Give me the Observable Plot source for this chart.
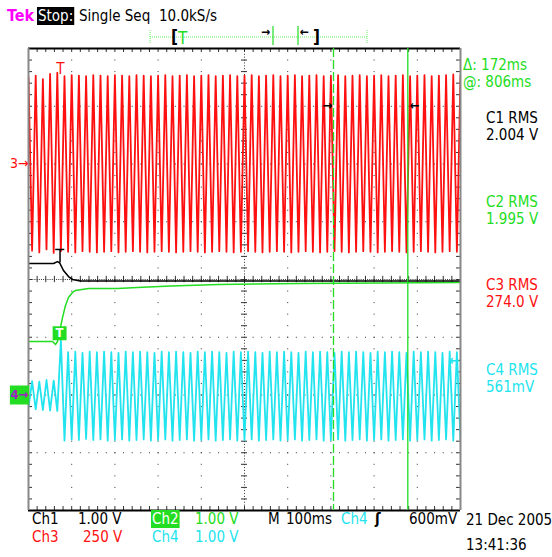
<!DOCTYPE html>
<html><head><meta charset="utf-8">
<script src="https://cdn.jsdelivr.net/npm/d3@7"></script>
<script src="https://cdn.jsdelivr.net/npm/@observablehq/plot@0.6"></script>
<style>
html,body{margin:0;padding:0;background:#fff;}
svg{display:block;}
</style></head><body>
<div id="chart"></div>
<script>
const timeDomainMs = [-72, 928];      // 10 div x 100 ms, trigger at 0 ms
const divDomain = [-4, 4];            // 8 vertical divisions
const sampleStartMs = -72;            // first plotted half-cycle extreme
const halfPeriodMs = 8.333;           // 60 Hz mains -> half period

// Ch3 (red) half-cycle extremes, in divisions (ground at +2 div)
const ch3Extremes = [
  3.50,0.50,3.53,0.47,3.47,0.52,3.56,0.46,3.58,0.49,
  3.52,0.48,3.54,0.47,3.53,0.49,3.52,0.48,3.54,0.47,
  3.53,0.48,3.52,0.49,3.54,0.47,3.53,0.48,3.52,0.49,
  3.54,0.48,3.53,0.47,3.52,0.48,3.53,0.49,3.54,0.48,
  3.52,0.47,3.53,0.48,3.54,0.49,3.52,0.48,3.53,0.47,
  3.54,0.48,3.52,0.49,3.53,0.48,3.54,0.47,3.52,0.48,
  3.53,0.49,3.54,0.48,3.52,0.47,3.53,0.48,3.54,0.49,
  3.52,0.48,3.53,0.47,3.54,0.48,3.52,0.49,3.53,0.48,
  3.54,0.47,3.52,0.48,3.53,0.49,3.54,0.48,3.52,0.47,
  3.53,0.48,3.54,0.49,3.52,0.48,3.53,0.47,3.54,0.48,
  3.52,0.49,3.53,0.48,3.54,0.47,3.52,0.48,3.53,0.49,
  3.54,0.48,3.52,0.47,3.53,0.48,3.54,0.49,3.55,0.48,
  3.53
];
// Ch4 (cyan) half-cycle extremes, in divisions (ground at -2 div)
const ch4Extremes = [
  -2.22,-1.76,-2.25,-1.77,-2.26,-1.74,-2.27,-1.75,-2.28,-1.05,
  -2.79,-1.26,-2.77,-1.25,-2.78,-1.27,-2.76,-1.25,-2.78,-1.26,
  -2.77,-1.25,-2.79,-1.26,-2.78,-1.27,-2.77,-1.25,-2.79,-1.26,
  -2.78,-1.25,-2.77,-1.26,-2.79,-1.27,-2.78,-1.25,-2.77,-1.26,
  -2.79,-1.25,-2.78,-1.26,-2.77,-1.27,-2.79,-1.25,-2.78,-1.26,
  -2.77,-1.25,-2.79,-1.26,-2.78,-1.27,-2.77,-1.25,-2.79,-1.26,
  -2.78,-1.25,-2.77,-1.26,-2.79,-1.27,-2.78,-1.25,-2.77,-1.26,
  -2.79,-1.25,-2.78,-1.26,-2.77,-1.27,-2.79,-1.25,-2.78,-1.26,
  -2.77,-1.25,-2.79,-1.26,-2.78,-1.27,-2.77,-1.25,-2.79,-1.26,
  -2.78,-1.25,-2.77,-1.26,-2.79,-1.27,-2.78,-1.25,-2.77,-1.26,
  -2.79,-1.25,-2.78,-1.26,-2.77,-1.27,-2.79,-1.25,-2.78,-1.26,
  -2.77,-1.25,-2.79,-1.26,-2.78,-1.27,-2.77,-1.25,-2.79,-1.26,
  -2.78
];
// Ch1 (black) trace
const ch1TimeMs = [-72, -14, -5, 0, 9, 20.6, 30, 48, 928];
const ch1Div    = [0.277, 0.277, 0.31, 0.29, 0.156, 0.05, 0, -0.026, -0.026];
// Ch2 (green) trace
const ch2TimeMs = [-72, -16.4, -9.5, -4.9, -2.6, 2.1, 6.7, 13.6, 20.6, 29.9, 36.8, 66.9, 134, 180, 257, 368, 558, 928];
const ch2Div    = [-1.074, -1.074, -1.126, -1.074, -1.0, -0.83, -0.66, -0.45, -0.31, -0.225, -0.19, -0.156, -0.156, -0.139, -0.113, -0.087, -0.069, -0.052];

const cursorsMs = [634, 806];
const triggerMs = 0;
const triggerLevelDiv = -1.4;         // 600 mV on Ch4
const ch3GroundDiv = 2;
const ch4GroundDiv = -2;

// texts
const headerTexts = ["Tek", "Stop:", "Single Seq", "10.0kS/s"];
const cursorTexts = ["\u0394: 172ms", "@: 806ms"];
const measureNames = ["C1 RMS", "C2 RMS", "C3 RMS", "C4 RMS"];
const measureValues = ["2.004 V", "1.995 V", "274.0 V", "561mV"];
const footerRow1 = ["Ch1", "1.00 V", "Ch2", "1.00 V", "M", "100ms", "Ch4", "\u0283", "600mV"];
const footerRow2 = ["Ch3", "250 V", "Ch4", "1.00 V"];
const dateTexts = ["21 Dec 2005", "13:41:36"];

// ---------------- build ----------------
const RED = "#ff1010", GREEN = "#22dd22", CYAN = "#22e4ee", MAG = "#ff00ff";
const ch3 = ch3Extremes.map((v, i) => ({t: sampleStartMs + i * halfPeriodMs, v}));
const ch4 = ch4Extremes.map((v, i) => ({t: sampleStartMs + i * halfPeriodMs, v}));
const ch1 = ch1TimeMs.map((t, i) => ({t, v: ch1Div[i]}));
const ch2 = ch2TimeMs.map((t, i) => ({t, v: ch2Div[i]}));

const [t0, t1] = timeDomainMs;
const divMs = (t1 - t0) / 10;
const centerMs = t0 + 5 * divMs;
const majorX = d3.range(1, 10).filter(i => i !== 5).map(i => t0 + i * divMs);
const majorY = [-3, -2, -1, 1, 2, 3];
const minorX = d3.range(0, 51).map(i => t0 + i * divMs / 5);
const minorY = d3.range(0, 41).map(i => -4 + i * 0.2);

const W = 552, H = 557, ML = 28, MR = 92, MT = 48, MB = 47;
const pxX = (t1 - t0) / (W - ML - MR);   // ms per pixel
const pxY = 8 / (H - MT - MB);           // div per pixel
const FONT = '"Liberation Sans Narrow","DejaVu Sans Condensed","Arial Narrow","DejaVu Sans",sans-serif';

const plot = Plot.plot({
  width: W, height: H,
  marginLeft: ML, marginRight: MR, marginTop: MT, marginBottom: MB,
  x: {domain: timeDomainMs, axis: null},
  y: {domain: divDomain, axis: null},
  style: {background: "#fff", fontFamily: FONT},
  marks: [
    // graticule
    Plot.ruleX(majorX, {stroke: "#333", strokeDasharray: "1,10.55"}),
    Plot.ruleY(majorY, {stroke: "#333", strokeDasharray: "1,7.64"}),
    Plot.ruleX([centerMs], {stroke: "#333", strokeDasharray: "1,1.89"}),
    Plot.ruleY([0], {stroke: "#333", strokeDasharray: "1,1.16"}),
    Plot.ruleX(minorX, {x: d => d, y1: -0.055, y2: 0.055, stroke: "#333"}),
    Plot.ruleY(minorY, {y: d => d, x1: centerMs - 3 * pxX, x2: centerMs + 3 * pxX, stroke: "#333"}),
    Plot.ruleX(minorX, {x: d => d, y1: 4, y2: 4 - 4 * pxY, stroke: "#333"}),
    Plot.ruleX(minorX, {x: d => d, y1: -4, y2: -4 + 4 * pxY, stroke: "#333"}),
    Plot.ruleY(minorY, {y: d => d, x1: t0, x2: t0 + 4 * pxX, stroke: "#333"}),
    Plot.ruleY(minorY, {y: d => d, x1: t1, x2: t1 - 4 * pxX, stroke: "#333"}),
    // traces
    Plot.line(ch3, {x: "t", y: "v", stroke: RED, strokeWidth: 1.8, clip: true}),
    Plot.line(ch4, {x: "t", y: "v", stroke: CYAN, strokeWidth: 1.8, clip: true}),
    Plot.line(ch2, {x: "t", y: "v", stroke: GREEN, strokeWidth: 1.5, clip: true}),
    Plot.line(ch1, {x: "t", y: "v", stroke: "#000", strokeWidth: 1.6, clip: true}),
    // frame
    Plot.ruleY([4, -4], {stroke: "#000", strokeWidth: 2}),
    Plot.ruleX([t0, t1], {stroke: "#888", strokeWidth: 2}),
    // cursors
    Plot.ruleX([cursorsMs[0]], {stroke: GREEN, strokeWidth: 1.3, strokeDasharray: "9,3"}),
    Plot.ruleX([cursorsMs[1]], {stroke: GREEN, strokeWidth: 1.3}),
    Plot.text([cursorsMs[0]], {x: d => d, y: 3, text: () => "\u2192", textAnchor: "end", dx: -1, fill: "#000", fontSize: 13, fontWeight: "bold"}),
    Plot.text([cursorsMs[1]], {x: d => d, y: 3, text: () => "\u2190", textAnchor: "start", dx: 2, fill: "#000", fontSize: 13, fontWeight: "bold"}),
    // trigger markers
    Plot.text([triggerMs], {x: d => d + 2, y: 3.55, text: () => "T", fill: RED, fontSize: 15, lineAnchor: "bottom"}),
    Plot.ruleY([0.52], {x1: triggerMs - 9, x2: triggerMs + 12, stroke: "#000", strokeWidth: 1.5}),
    Plot.ruleX([triggerMs + 1], {y1: 0.52, y2: 0.29, stroke: "#000", strokeWidth: 1.5}),
    Plot.dot([triggerMs], {x: d => d, y: -0.93, symbol: "square", r: 7, fill: GREEN, stroke: GREEN}),
    Plot.text([triggerMs], {x: d => d, y: -0.93, text: () => "T", fill: "#fff", fontSize: 13, fontWeight: "bold"}),
    // trigger level
    Plot.text([triggerLevelDiv], {x: t1, y: d => d, text: () => "\u2190", textAnchor: "end", dx: -1, fill: CYAN, fontSize: 14, fontWeight: "bold"}),
    // ground markers
    Plot.text([ch3GroundDiv], {x: t0, y: d => d, text: () => "3\u2192", textAnchor: "end", dx: 0, fill: RED, fontSize: 14}),
    Plot.dot([ch4GroundDiv], {x: t0, y: d => d, dx: -9, symbol: "square", r: 10, fill: GREEN, stroke: GREEN}),
    Plot.text([ch4GroundDiv], {x: t0, y: d => d, text: () => "4\u2192", textAnchor: "end", dx: 0, fill: "#a020c0", fontSize: 13, fontWeight: "bold"})
  ]
});
document.getElementById("chart").appendChild(plot);

// ---------------- screen chrome (text around the graticule) ----------------
const svg = d3.select(plot);
function txt(x, y, s, fill, size = 15, weight = "normal") {
  return svg.append("text").attr("x", x).attr("y", y).attr("fill", fill)
    .attr("text-anchor", "start")
    .attr("font-family", FONT).attr("font-size", size).attr("font-weight", weight).text(s);
}
function boxed(x, y, s, fill, bg, size = 15, weight = "normal") {
  const r = svg.append("rect").attr("fill", bg);
  const t = txt(x, y, s, fill, size, weight);
  const b = t.node().getBBox();
  r.attr("x", b.x - 1).attr("y", b.y).attr("width", b.width + 2).attr("height", b.height);
  return t;
}
// header
txt(7, 21, headerTexts[0], MAG, 16, "bold");
boxed(38, 21, headerTexts[1], "#fff", "#000", 15, "normal");
txt(79, 21, headerTexts[2], "#000", 15);
txt(159, 21, headerTexts[3], "#000", 15);
// record bar
svg.append("line").attr("x1", 150).attr("x2", 367).attr("y1", 37).attr("y2", 37)
  .attr("stroke", "#66ee66").attr("stroke-dasharray", "1,1");
[150, 367].forEach(x => svg.append("line").attr("x1", x).attr("x2", x).attr("y1", 30).attr("y2", 44)
  .attr("stroke", "#66ee66").attr("stroke-dasharray", "1,1"));
[273, 298].forEach(x => svg.append("line").attr("x1", x).attr("x2", x).attr("y1", 26).attr("y2", 45)
  .attr("stroke", GREEN).attr("stroke-width", 1.2));
txt(171, 43, "[", "#000", 17, "bold");
txt(178, 44, "T", GREEN, 17);
txt(261, 36, "\u2192", "#000", 12, "bold");
txt(300, 36, "\u2190", "#000", 12, "bold");
txt(313, 43, "]", "#000", 17, "bold");
// right panel
txt(463, 70, cursorTexts[0], GREEN, 15);
txt(463, 87, cursorTexts[1], GREEN, 15);
const mColors = ["#000", GREEN, RED, CYAN];
const mBase = [123, 207, 290, 375];
measureNames.forEach((s, i) => {
  txt(486, mBase[i], s, mColors[i], 15);
  txt(486, mBase[i] + 17, measureValues[i], mColors[i], 15);
});
// footer row 1
txt(32, 524, footerRow1[0], "#000");
txt(78, 524, footerRow1[1], "#000");
boxed(152, 524, footerRow1[2], "#fff", GREEN);
txt(195, 524, footerRow1[3], GREEN);
txt(268, 524, footerRow1[4], "#000");
txt(286, 524, footerRow1[5], "#000");
txt(341, 524, footerRow1[6], CYAN);
txt(375, 524, footerRow1[7], "#000", 15, "bold");
txt(409, 524, footerRow1[8], "#000");
// footer row 2
txt(32, 542, footerRow2[0], RED);
txt(83, 542, footerRow2[1], RED);
txt(152, 542, footerRow2[2], CYAN);
txt(195, 542, footerRow2[3], CYAN);
// date
txt(466, 525, dateTexts[0], "#000");
txt(466, 550, dateTexts[1], "#000");
</script>
</body></html>
